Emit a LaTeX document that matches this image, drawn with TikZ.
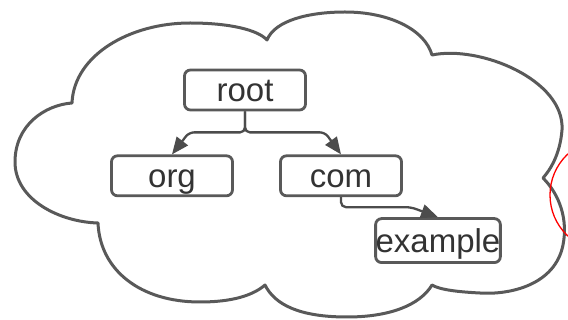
\documentclass[tikz,border=0pt]{standalone}
\usepackage{fontspec}
\setmainfont{Liberation Sans}
\usetikzlibrary{positioning, arrows.meta}

\begin{document}
\begin{tikzpicture}[
  x=1pt, y=-1pt,
  zone/.style={draw=black!65, fill=white, line width=2.8pt, rounded corners=6pt, minimum width=121pt, minimum height=40pt, inner sep=0pt, text height=26pt, text depth=2pt, text=black!80, font=\fontsize{33}{33}\selectfont},
  link/.style={-{Triangle[length=17pt, width=14pt]}, draw=black!70, line width=2.3pt},
  cloud/.style={draw=black!65, line width=3pt, line join=round}
]
\useasboundingbox (0,0) rectangle (568,320);
\clip (0,0) rectangle (568,320);

% Cloud
\draw[cloud] (72,103) .. controls (74,55) and (130,23) .. (190,23)
  .. controls (230,23) and (258,30) .. (267,40)
  .. controls (275,20) and (310,12) .. (345,12)
  .. controls (390,12) and (425,30) .. (432,55)
  .. controls (480,45) and (565,80) .. (562,130)
  .. controls (560,155) and (550,170) .. (543,178)
  .. controls (560,195) and (568,220) .. (563,245)
  .. controls (555,285) and (510,295) .. (480,293)
  .. controls (460,292) and (440,290) .. (432,285)
  .. controls (420,305) and (390,317) .. (347,317)
  .. controls (300,317) and (275,305) .. (265,285)
  .. controls (250,298) and (225,302) .. (200,302)
  .. controls (140,302) and (100,270) .. (98,223)
  .. controls (60,222) and (15,200) .. (15,162)
  .. controls (15,125) and (45,105) .. cycle;

% Marker at the edge
\draw[red, line width=1.3pt] (606,195) circle (56);

% Zones
\node[zone] (Root) at (245,90) {root};
\node[zone, below=43pt of Root, xshift=-73pt] (Org) {org};
\node[zone, below=43pt of Root, xshift=96pt] (Com) {com};
\node[zone, below=20pt of Com, xshift=97pt, minimum width=123pt, minimum height=44pt] (Example) {example};

% Links
\draw[link] (Root.south) [rounded corners=5pt] |- ([xshift=17pt, yshift=22pt]Org.north) [sharp corners] -- (Org.north);
\draw[link] (Root.south) [rounded corners=5pt] |- ([xshift=-16pt, yshift=22pt]Com.north) [sharp corners] -- (Com.north);
\draw[link] (Com.south) [rounded corners=5pt] |- ([xshift=-27pt, yshift=10pt]Example.north) [sharp corners] -- (Example.north);

\end{tikzpicture}
\end{document}
